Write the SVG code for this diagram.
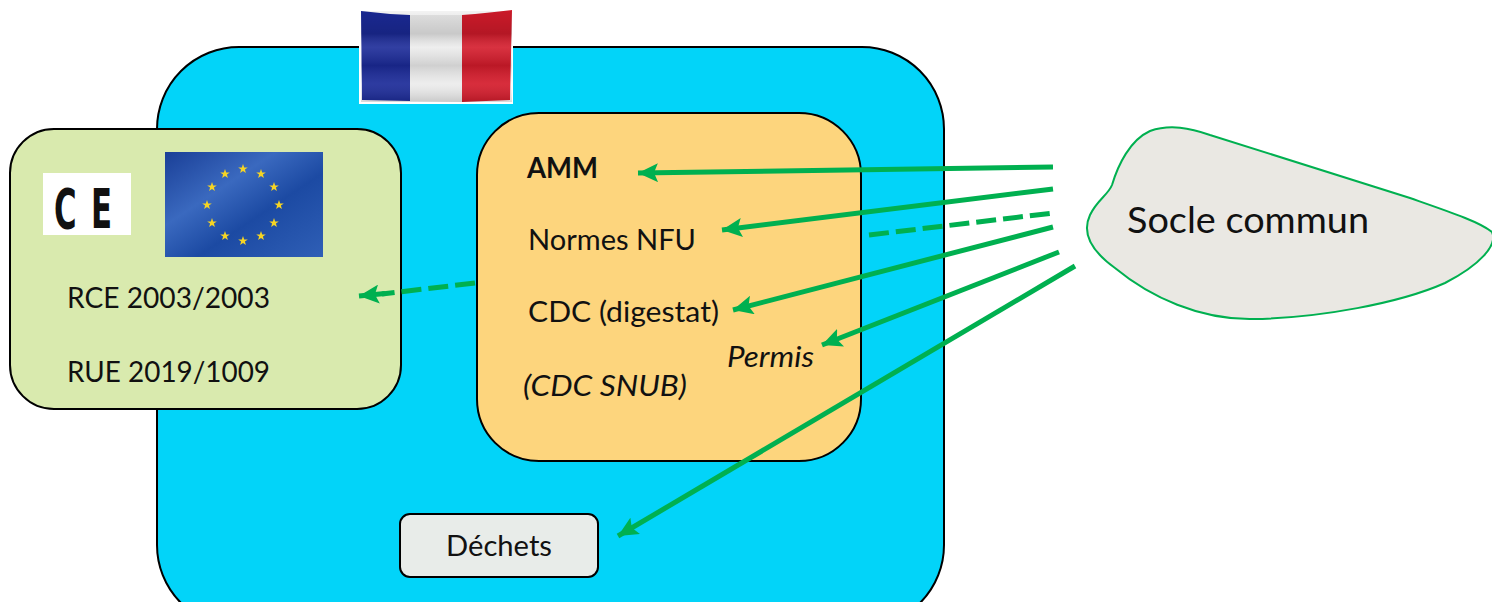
<svg xmlns="http://www.w3.org/2000/svg" width="1492" height="602" viewBox="0 0 1492 602">
<defs>
<style>
.box{stroke:#000;stroke-width:2}
.t{font-family:Lato,"Noto Sans","Liberation Sans",sans-serif;font-size:28px;fill:#111}
.it{font-style:italic}
.big{font-size:36px}
.arr{stroke:#00B050;stroke-width:5;fill:none;marker-end:url(#ah)}
.dash{stroke:#00B050;stroke-width:5;fill:none;stroke-dasharray:20,7}
</style>
<marker id="ah" markerUnits="userSpaceOnUse" markerWidth="21" markerHeight="19" refX="20" refY="9.5" orient="auto">
<path d="M0,0 L20,9.5 L0,19 L4,9.5 Z" fill="#00B050"/>
</marker>
<linearGradient id="fold" x1="0" y1="0" x2="0" y2="1">
<stop offset="0" stop-color="#000" stop-opacity="0.05"/>
<stop offset="0.25" stop-color="#000" stop-opacity="0.15"/>
<stop offset="0.4" stop-color="#fff" stop-opacity="0.1"/>
<stop offset="0.6" stop-color="#000" stop-opacity="0.12"/>
<stop offset="0.8" stop-color="#fff" stop-opacity="0.08"/>
<stop offset="1" stop-color="#000" stop-opacity="0.15"/>
</linearGradient>
<linearGradient id="eu" x1="0" y1="0" x2="1" y2="1">
<stop offset="0" stop-color="#1a3f97"/>
<stop offset="0.35" stop-color="#3a69bf"/>
<stop offset="0.6" stop-color="#1c4aa3"/>
<stop offset="1" stop-color="#2f5fb6"/>
</linearGradient>
<polygon id="star" points="0,-5 1.2,-1.6 4.8,-1.6 1.9,0.6 2.9,4 0,2 -2.9,4 -1.9,0.6 -4.8,-1.6 -1.2,-1.6" fill="#f5d425"/>
</defs>

<g id="france">
<rect x="157" y="47" width="787" height="580" rx="82" ry="82" fill="#02D4F9" class="box"/>
</g>

<g id="flag-fr">
<rect x="359" y="9" width="154" height="95" fill="#fff"/>
<path d="M361,11 Q385,14 410,15 L410,101 L362,100 Z" fill="#1b2a98"/>
<path d="M410,15 L462,15 L462,102 L410,101 Z" fill="#ececec"/>
<path d="M462,15 Q490,13 512,10 L510,100 L462,102 Z" fill="#d41b2b"/>
<rect x="361" y="11" width="151" height="91" fill="url(#fold)"/>
</g>

<g id="europe">
<rect x="10" y="129" width="391" height="280" rx="44" ry="44" fill="#D9EAAE" class="box"/>
<rect x="43" y="173" width="88" height="62" fill="#fff"/>
<text transform="translate(54,228) scale(0.55,1)" font-family="'DejaVu Sans',sans-serif" font-weight="bold" font-size="56" letter-spacing="26" fill="#111">CE</text>
<rect x="165" y="152" width="158" height="105" fill="url(#eu)"/>
<g transform="translate(243,205)">
<use href="#star" x="0" y="-36"/>
<use href="#star" x="18" y="-31"/>
<use href="#star" x="31" y="-18"/>
<use href="#star" x="36" y="0"/>
<use href="#star" x="31" y="18"/>
<use href="#star" x="18" y="31"/>
<use href="#star" x="0" y="36"/>
<use href="#star" x="-18" y="31"/>
<use href="#star" x="-31" y="18"/>
<use href="#star" x="-36" y="0"/>
<use href="#star" x="-31" y="-18"/>
<use href="#star" x="-18" y="-31"/>
</g>
<text class="t" x="67" y="308" textLength="203" lengthAdjust="spacingAndGlyphs">RCE 2003/2003</text>
<text class="t" x="67" y="382" textLength="203" lengthAdjust="spacingAndGlyphs">RUE 2019/1009</text>
</g>

<g id="national">
<rect x="477" y="113" width="384" height="348" rx="62" ry="62" fill="#FDD57D" class="box"/>
<text class="t" x="527" y="178" font-weight="bold" textLength="71" lengthAdjust="spacingAndGlyphs">AMM</text>
<text class="t" x="528" y="250" textLength="168" lengthAdjust="spacingAndGlyphs">Normes NFU</text>
<text class="t" x="528" y="322" textLength="191" lengthAdjust="spacingAndGlyphs">CDC (digestat)</text>
<text class="t it" x="727" y="367" textLength="87" lengthAdjust="spacingAndGlyphs">Permis</text>
<text class="t it" x="523" y="396" textLength="164" lengthAdjust="spacingAndGlyphs">(CDC SNUB)</text>
</g>

<g id="dechets">
<rect x="400" y="514" width="198" height="63" rx="10" ry="10" fill="#E8ECE9" class="box"/>
<text class="t" x="446" y="556" textLength="106" lengthAdjust="spacingAndGlyphs">Déchets</text>
</g>

<g id="socle">
<path d="M1112,185 C1118,165 1130,140 1150,131 C1170,124 1190,128 1210,135 L1410,198 C1450,212 1480,222 1492,232 C1498,245 1480,265 1445,283 C1400,303 1320,318 1253,319 C1200,320 1150,297 1115,268 C1090,250 1082,232 1090,215 C1097,200 1108,195 1112,185 Z" fill="#EAE8E3" stroke="#00B050" stroke-width="2"/>
<text class="t big" x="1127" y="233" textLength="242" lengthAdjust="spacingAndGlyphs">Socle commun</text>
</g>

<g id="connectors">
<line class="arr" x1="1053" y1="167" x2="638" y2="173"/>
<line class="arr" x1="1053" y1="189" x2="722" y2="230"/>
<line class="dash" x1="869" y1="235" x2="1053" y2="213"/>
<line class="arr" x1="1053" y1="227" x2="733" y2="310"/>
<line class="arr" x1="1059" y1="252" x2="822" y2="345"/>
<line class="arr" x1="1075" y1="266" x2="618" y2="536"/>
<line class="dash" x1="475" y1="283" x2="382" y2="294"/>
<line class="arr" x1="385" y1="293.5" x2="359" y2="296"/>
</g>
</svg>
